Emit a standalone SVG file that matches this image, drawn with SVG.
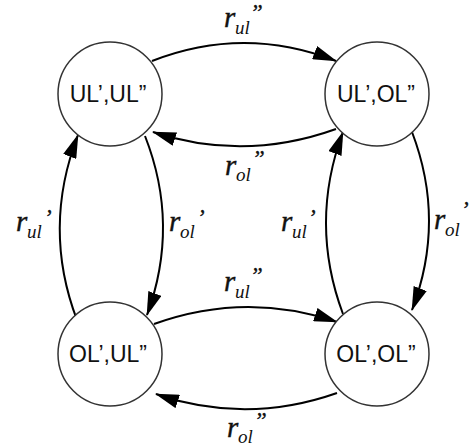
<svg xmlns="http://www.w3.org/2000/svg" width="469" height="447" viewBox="0 0 469 447">
<style>
.node circle{fill:#fff;stroke:#333;stroke-width:1.5}
.node text{font-family:"Liberation Sans",Arial,sans-serif;font-size:23px;fill:#111;text-anchor:middle}
.edge{fill:none;stroke:#000;stroke-width:2;marker-end:url(#ah)}
.lbl text{font-family:"Liberation Serif","Times New Roman",serif;font-style:italic;fill:#111}
.r{font-size:29px;stroke:#111;stroke-width:0.4}
.s{font-size:19px}
.q{font-size:23px;stroke:#111;stroke-width:0.3}
</style>
<defs>
<marker id="ah" viewBox="0 0 24 14" refX="23" refY="7" markerWidth="24" markerHeight="14" markerUnits="userSpaceOnUse" orient="auto">
<path d="M0,0 L24,7 L0,14 z" fill="#000"/>
</marker>
</defs>
<rect width="469" height="447" fill="#fff"/>
<g id="connectors">
<path class="edge" d="M152,61 Q244,25 336,61"/>
<path class="edge" d="M336,129 Q244,162 153,132"/>
<path class="edge" d="M77,320 Q42,228 78,135"/>
<path class="edge" d="M145,136 Q180,225 147,315"/>
<path class="edge" d="M343,314 Q309,223 343,132"/>
<path class="edge" d="M412,132 Q446,221 412,310"/>
<path class="edge" d="M154,324 Q246,291 337,322"/>
<path class="edge" d="M337,393 Q246,425 156,394"/>
</g>
<g id="n_ulul" class="node"><circle cx="110" cy="94" r="52"/><text x="108" y="102">UL’,UL”</text></g>
<g id="n_ulol" class="node"><circle cx="377" cy="94" r="52"/><text x="376" y="102">UL’,OL”</text></g>
<g id="n_olul" class="node"><circle cx="110" cy="354" r="52"/><text x="108" y="362">OL’,UL”</text></g>
<g id="n_olol" class="node"><circle cx="377" cy="354" r="52"/><text x="376" y="362">OL’,OL”</text></g>
<g id="labels" class="lbl">
<g><text class="r" x="224" y="27">r</text><text class="s" x="235" y="34">ul</text><text class="q" x="250" y="20">”</text></g>
<g><text class="r" x="225" y="175">r</text><text class="s" x="236" y="181">ol</text><text class="q" x="252" y="166">”</text></g>
<g><text class="r" x="16" y="231">r</text><text class="s" x="27" y="238">ul</text><text class="q" x="44" y="225">’</text></g>
<g><text class="r" x="169" y="231">r</text><text class="s" x="180" y="238">ol</text><text class="q" x="197" y="225">’</text></g>
<g><text class="r" x="281" y="231">r</text><text class="s" x="292" y="238">ul</text><text class="q" x="308" y="225">’</text></g>
<g><text class="r" x="434" y="229">r</text><text class="s" x="445" y="236">ol</text><text class="q" x="461" y="217">’</text></g>
<g><text class="r" x="224" y="291">r</text><text class="s" x="235" y="298">ul</text><text class="q" x="250" y="283">”</text></g>
<g><text class="r" x="227" y="437">r</text><text class="s" x="238" y="443">ol</text><text class="q" x="254" y="428">”</text></g>
</g>
</svg>
